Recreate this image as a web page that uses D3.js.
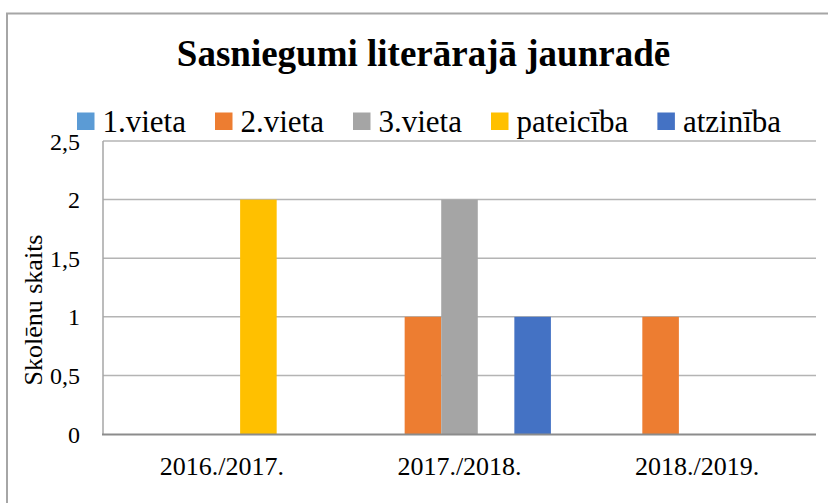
<!DOCTYPE html>
<html>
<head>
<meta charset="utf-8">
<script src="https://cdn.jsdelivr.net/npm/d3@7"></script>
<style>
  html, body { margin: 0; padding: 0; background: #fff; }
  svg { display: block; }
</style>
</head>
<body>
<svg id="chart" width="828" height="503"></svg>
<script>
const title = "Sasniegumi literārajā jaunradē";
const categories = ["2016./2017.", "2017./2018.", "2018./2019."];
const seriesNames = ["1.vieta", "2.vieta", "3.vieta", "pateicība", "atzinība"];
const seriesColors = ["#5B9BD5", "#ED7D31", "#A5A5A5", "#FFC000", "#4472C4"];
const vieta1 = [0, 0, 0];
const vieta2 = [0, 1, 1];
const vieta3 = [0, 2, 0];
const pateiciba = [2, 0, 0];
const atziniba = [0, 1, 0];
const yTicks = [0, 0.5, 1, 1.5, 2, 2.5];
const yTitle = "Skolēnu skaits";

const seriesValues = [vieta1, vieta2, vieta3, pateiciba, atziniba];
const FONT = "Liberation Serif";

const svg = d3.select("#chart");
const W = 828, H = 503;
const plot = { left: 103, right: 816, top: 141, bottom: 434 };

// outer chart border (left and top visible)
svg.append("line").attr("x1", 7).attr("x2", 7).attr("y1", 13).attr("y2", H)
  .attr("stroke", "#a6a6a6").attr("stroke-width", 2);
svg.append("line").attr("x1", 6).attr("x2", W).attr("y1", 13.5).attr("y2", 13.5)
  .attr("stroke", "#a6a6a6").attr("stroke-width", 2);

const x0 = d3.scaleBand().domain(categories).range([plot.left, plot.right]).padding(0);
const x1 = d3.scaleBand().domain(seriesNames).range([0, x0.bandwidth()])
  .paddingInner(0).paddingOuter(0.75);
const y = d3.scaleLinear().domain([0, 2.5]).range([plot.bottom, plot.top]);

// gridlines
svg.append("g").selectAll("line").data(yTicks.filter(d => d > 0)).join("line")
  .attr("x1", plot.left).attr("x2", plot.right)
  .attr("y1", d => y(d)).attr("y2", d => y(d))
  .attr("stroke", "#b4b4b4").attr("stroke-width", 1.5);

// left axis line
svg.append("line").attr("x1", plot.left).attr("x2", plot.left)
  .attr("y1", plot.top).attr("y2", plot.bottom)
  .attr("stroke", "#a6a6a6").attr("stroke-width", 1.5);

// bars
const data = [];
categories.forEach((c, ci) => {
  seriesNames.forEach((s, si) => {
    data.push({ cat: c, series: s, value: seriesValues[si][ci], color: seriesColors[si] });
  });
});
svg.append("g").selectAll("rect").data(data.filter(d => d.value > 0)).join("rect")
  .attr("x", d => x0(d.cat) + x1(d.series))
  .attr("width", x1.bandwidth())
  .attr("y", d => y(d.value))
  .attr("height", d => y(0) - y(d.value))
  .attr("fill", d => d.color);

// bottom axis line
svg.append("line").attr("x1", plot.left - 1).attr("x2", plot.right)
  .attr("y1", plot.bottom + 0.5).attr("y2", plot.bottom + 0.5)
  .attr("stroke", "#8c8c8c").attr("stroke-width", 2);

// y tick labels
const fmt = d => String(d).replace(".", ",");
const yAxis = d3.axisLeft(y).tickValues(yTicks).tickFormat(fmt).tickSize(0).tickPadding(0);
const yg = svg.append("g").attr("transform", `translate(80,0)`).call(yAxis)
  .attr("font-family", FONT).attr("font-size", 24);
yg.select(".domain").remove();
yg.selectAll("text").attr("font-family", FONT).attr("font-size", 24)
  .attr("fill", "#000").attr("dy", "0.34em");

// x labels
const xAxis = d3.axisBottom(x0).tickSize(0).tickPadding(0);
const xg = svg.append("g").attr("transform", `translate(0,${plot.bottom})`).call(xAxis)
  .attr("font-family", FONT).attr("font-size", 26);
xg.select(".domain").remove();
xg.selectAll("text").attr("font-family", FONT).attr("font-size", 26)
  .attr("fill", "#000").attr("dy", null).attr("y", 41);

// y title
svg.append("text")
  .attr("transform", "translate(42,310) rotate(-90)")
  .attr("text-anchor", "middle")
  .attr("font-family", FONT).attr("font-size", 26)
  .attr("fill", "#000")
  .text(yTitle);

// title
svg.append("text")
  .attr("x", 423.5).attr("y", 66)
  .attr("text-anchor", "middle")
  .attr("font-family", FONT).attr("font-size", 37).attr("font-weight", "bold")
  .attr("fill", "#000")
  .text(title);

// legend
const legend = svg.append("g");
let lx = 77;
const markerSize = 17.5, markerGap = 8, itemGap = 29;
seriesNames.forEach((s, i) => {
  legend.append("rect").attr("x", lx).attr("y", 112.5)
    .attr("width", markerSize).attr("height", markerSize).attr("fill", seriesColors[i]);
  const t = legend.append("text").attr("x", lx + markerSize + markerGap).attr("y", 131.5)
    .attr("font-family", FONT).attr("font-size", 31)
    .attr("fill", "#000").text(s);
  lx += markerSize + markerGap + t.node().getComputedTextLength() + itemGap;
});
</script>
</body>
</html>
